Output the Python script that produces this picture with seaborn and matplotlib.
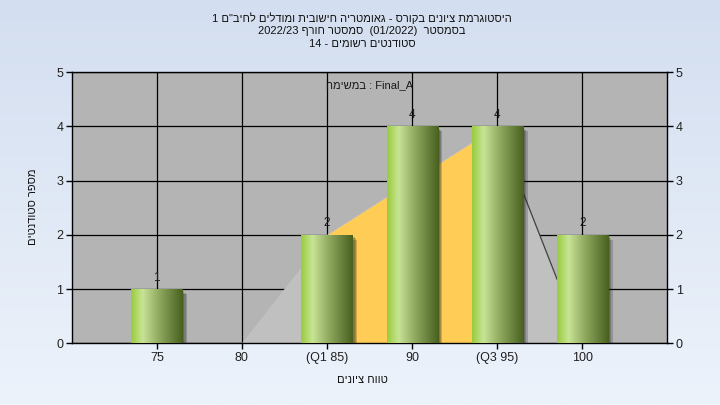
import re
import numpy as np
import matplotlib
matplotlib.use('Agg')
import matplotlib.pyplot as plt
import matplotlib.patheffects as pe
from matplotlib.colors import LinearSegmentedColormap
import seaborn as sns

# data
grade_labels = ['75', '80', '(Q1 85)', '90', '(Q3 95)', '100']
grades = [75, 80, 85, 90, 95, 100]
counts = [1, 0, 2, 4, 4, 2]
curve_grades = [80, 85, 95, 100]
curve_counts = [0, 2, 4, 0]
q1, q3 = 85, 95

title_lines = ['היסטוגרמת ציונים בקורס - גאומטריה חישובית ומודלים לחיב"ם 1',
               'בסמסטר  (01/2022)  סמסטר חורף 2022/23',
               'סטודנטים רשומים - 14']
task_label = 'Final_A : במשימה'
x_title = 'טווח ציונים'
y_title = 'מספר סטודנטים'


def vis(s):
    # matplotlib has no bidi, so turn logical hebrew into visual order
    r = s[::-1]
    r = re.sub(r'[0-9A-Za-z_/.]+', lambda m: m.group(0)[::-1], r)
    return r.translate(str.maketrans('()', ')('))


def gi(g):
    # grade -> category position on the x axis
    return (g - grades[0]) / (grades[1] - grades[0])


sns.set_style('white')
plt.rcParams['font.family'] = ['Liberation Sans', 'DejaVu Sans']

fig = plt.figure(figsize=(7.2, 4.05), dpi=100)

# light blue vertical gradient behind everything
bg = fig.add_axes([0, 0, 1, 1], zorder=-10)
bg_cmap = LinearSegmentedColormap.from_list('bg', ['#d3def0', '#edf3fb'])
bg.imshow(np.linspace(0, 1, 256).reshape(-1, 1), cmap=bg_cmap, aspect='auto',
          extent=[0, 1, 0, 1])
bg.axis('off')

ax = fig.add_axes([0.0996, 0.1523, 0.8272, 0.6692])
ax.set_facecolor('#b4b4b4')

sns.barplot(x=grade_labels, y=counts, order=grade_labels, width=0.6,
            color='#9cc850', linewidth=0, ax=ax, zorder=3)
bars = list(ax.patches)

# distribution shape behind the bars
cx = [gi(g) for g in curve_grades]
ax.fill(cx, curve_counts, color='#c0c0c0', lw=0, zorder=1)
iq = [i for i, g in enumerate(curve_grades) if q1 <= g <= q3]
ax.fill_between([cx[i] for i in iq], [curve_counts[i] for i in iq],
                color='#ffcc55', lw=0, zorder=1.1)
tail = [i for i, g in enumerate(curve_grades) if g >= q3]
ax.plot([cx[i] for i in tail], [curve_counts[i] for i in tail],
        color='#404040', lw=0.9, zorder=1.2)

# cylinder-like gradient on each bar, soft shadow to the lower right
bar_cmap = LinearSegmentedColormap.from_list(
    'bar', [(0, '#98cc3c'), (0.22, '#c8e496'), (0.5, '#96b066'), (1, '#48601e')])
grad = np.linspace(0, 1, 128).reshape(1, -1)
shadow = [pe.SimplePatchShadow(offset=(d, -d), shadow_rgbFace='#202020', alpha=0.22)
          for d in (1.5, 2.5, 3.5)]
for p in bars:
    h = p.get_height()
    if h <= 0:
        continue
    x0, w = p.get_x(), p.get_width()
    p.set_path_effects(shadow + [pe.Normal()])
    im = ax.imshow(grad, cmap=bar_cmap, aspect='auto', extent=[x0, x0 + w, 0, h],
                   zorder=3.1)
    im.set_clip_path(p)

for i, c in enumerate(counts):
    if c > 0:
        ax.text(i, c + 0.1, str(c), ha='center', va='bottom', fontsize=8.5,
                color='#1a1a1a', zorder=5)

ax.text(0.5, 0.951, vis(task_label), transform=ax.transAxes, ha='center',
        va='center', fontsize=8, color='#1a1a1a', zorder=5)

ax.set_xlim(-1, 6)
ax.set_ylim(0, 5)
ax.set_xticks(range(len(grade_labels)))
ax.set_xticklabels(grade_labels)
ax.set_yticks(range(6))
ax.grid(True, color='black', lw=0.9)
ax.set_axisbelow(True)
ax.tick_params(axis='both', which='both', direction='out', length=4, width=1,
               color='black', labelsize=9, labelcolor='#202020', pad=2,
               left=True, bottom=True, right=True, labelright=True)
for s in ax.spines.values():
    s.set_color('black')
    s.set_linewidth(1)
ax.set_xlabel('')
ax.set_ylabel('')

for k, line in enumerate(title_lines):
    fig.text(0.503, 1 - (18 + 13 * k) / 405, vis(line), ha='center', va='center',
             fontsize=8, color='#111111')
fig.text(0.503, 1 - 380 / 405, vis(x_title), ha='center', va='center', fontsize=8,
         color='#111111')
fig.text(33 / 720, 1 - 207 / 405, vis(y_title), ha='center', va='center', fontsize=8,
         rotation=90, color='#111111')

fig.savefig('out.png', dpi=100)
